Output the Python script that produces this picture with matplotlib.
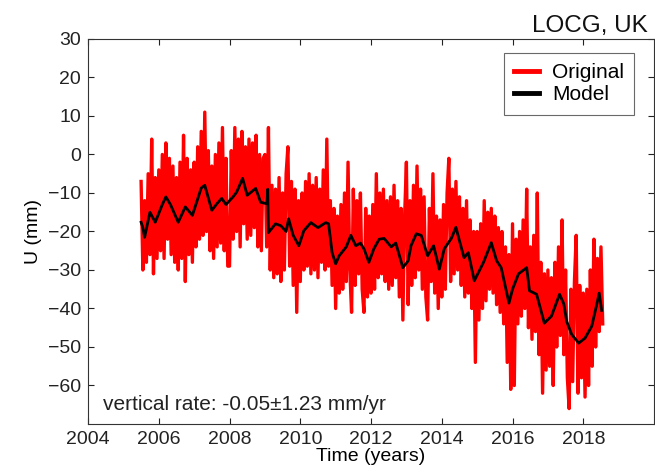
import numpy as np
import matplotlib
matplotlib.use("Agg")
import matplotlib.pyplot as plt

plt.rcParams["font.family"] = ["Liberation Sans", "DejaVu Sans"]

# model (smoothed) curve, knots
model_t = [2005.50, 2005.55, 2005.60, 2005.75, 2005.90, 2006.10, 2006.20, 2006.33,
           2006.55, 2006.75, 2006.95, 2007.20, 2007.30, 2007.50, 2007.65, 2007.78,
           2007.90, 2008.10, 2008.20, 2008.37, 2008.50, 2008.74, 2008.88, 2009.06,
           2009.08, 2009.10, 2009.30, 2009.45, 2009.60, 2009.67, 2009.80, 2009.96,
           2010.10, 2010.30, 2010.50, 2010.72, 2010.80, 2010.90, 2011.00, 2011.10,
           2011.30, 2011.43, 2011.57, 2011.70, 2011.80, 2011.94, 2012.08, 2012.23,
           2012.37, 2012.57, 2012.70, 2012.90, 2013.05, 2013.13, 2013.28, 2013.42,
           2013.60, 2013.77, 2013.93, 2014.07, 2014.27, 2014.40, 2014.50, 2014.63,
           2014.75, 2014.92, 2015.18, 2015.40, 2015.55, 2015.68, 2015.90, 2016.00,
           2016.17, 2016.40, 2016.48, 2016.68, 2016.90, 2017.10, 2017.33, 2017.45,
           2017.53, 2017.67, 2017.87, 2018.05, 2018.24, 2018.38, 2018.45, 2018.52]
model_u = [-17.6, -19.0, -21.5, -15.0, -17.6, -13.0, -11.0, -13.0,
           -17.6, -13.6, -15.8, -8.7, -8.0, -14.5, -12.7, -11.4,
           -13.0, -11.0, -9.8, -6.2, -10.6, -8.8, -12.4, -12.8,
           -9.0, -20.3, -18.0, -18.5, -20.0, -16.7, -21.0, -23.7,
           -19.8, -17.7, -19.0, -17.7, -18.0, -25.5, -28.4, -26.3,
           -24.0, -21.0, -23.7, -23.0, -24.5, -28.0, -24.5, -22.0,
           -21.8, -24.0, -23.0, -29.4, -27.6, -23.7, -20.6, -21.0,
           -26.3, -23.7, -29.8, -24.5, -21.8, -18.9, -22.4, -26.8,
           -25.5, -32.8, -28.0, -22.9, -27.6, -29.4, -38.6, -35.0,
           -31.0, -29.4, -35.4, -36.3, -43.8, -42.0, -36.3, -38.8,
           -43.3, -46.7, -49.0, -47.7, -44.6, -39.0, -36.0, -40.5]

# original GPS series, sampled every 0.05 yr from 2005.50
orig_start, orig_step = 2005.50, 0.05
orig_u = [
    -7, -30, -12, -28, -5, -26, 4, -31, -6, -27,
    -4, -25, 0, -27, 3, -22, -1, -26, -3, -28, -6, -30, -2, -27, 5, -33, -1, -26, -4, -28,
    -2, -24, 2, -22, 6, -21, 11, -20, 1, -25, -3, -27, 0, -24, 3, -23, 7, -25, -1, -29,
    -29, 1, -22, 7, -20, 4, -24, 6, -18, 2, -22, 4, -21, 3, -19, 5, -24, 0, -25, -1,
    0, -24, 7, -30, -8, -32, -9, -31, -6, -33, -10, -30, -5, 2, -29, -7, -34, -9, -41, -12,
    -33, -10, -30, -7, -29, -5, -31, -8, -30, -6, -32, -9, -28, -4, -30, 4, -29, -12, -34, -14,
    -40, -16, -36, -13, -35, -10, -33, -2, -30, -41, -9, -34, -12, -31, -10, -35, -41, -14, -37, -16,
    -36, -13, -35, -5, -32, -10, -31, -9, -33, -12, -35, -11, -34, -8, -32, -12, -37, -14, -43, -16,
    -2, -39, -12, -34, -8, -32, -3, -30, -9, -35, -11, -37, -43, -14, -33, -5, -36, -16, -40, -17,
    -37, -13, -35, -10, -1, -33, -9, -31, -7, -30, -11, -34, -14, -37, -12, -36, -17, -40, -20, -54,
    -20, -43, -18, -40, -12, -38, -15, -35, -14, -36, -16, -39, -19, -41, -20, -44, -24, -54, -26, -61,
    -18, -60, -22, -44, -20, -42, -17, -40, -9, -45, -24, -48, -21, -46, -10, -52, -28, -62, -31, -56,
    -30, -55, -32, -60, -28, -50, -24, -47, -17, -52, -30, -58, -66, -35, -59, -33, -21, -62, -34, -58,
    -36, -63, -35, -60, -30, -55, -22, -50, -27, -46, -24, -44,
]
orig_t = orig_start + orig_step * np.arange(len(orig_u))

x_ticks = [2004, 2006, 2008, 2010, 2012, 2014, 2016, 2018]
y_ticks = [30, 20, 10, 0, -10, -20, -30, -40, -50, -60]

fig = plt.figure(figsize=(6.55, 4.75), dpi=100)
ax = fig.add_axes([0.1344, 0.1074, 0.8641, 0.8105])

ax.plot(orig_t, orig_u, color="#ff0000", lw=2.4, label="Original")
ax.plot(model_t, model_u, color="black", lw=2.0, label="Model")

ax.set_xlim(2004, 2020)
ax.set_ylim(-70, 30)
ax.set_xticks(x_ticks)
ax.set_yticks(y_ticks)
ax.tick_params(direction="in", top=True, right=True, labelsize=14, length=4,
               width=0.8, colors="#222222", pad=5)
for s in ax.spines.values():
    s.set_color("#333333")
    s.set_linewidth(0.8)

ax.set_xlabel("Time (years)", fontsize=14, labelpad=0)
ax.set_ylabel("U (mm)", fontsize=14, labelpad=4)
fig.text(648 / 655, 1 - 32 / 475, "LOCG, UK", ha="right", va="baseline",
         fontsize=17.5, color="#111111")
ax.text(0.027, 0.037, "vertical rate: -0.05\u00b11.23 mm/yr", transform=ax.transAxes,
        fontsize=15, color="#222222")

leg = ax.legend(loc="upper right", bbox_to_anchor=(0.965, 0.964), fontsize=15,
                fancybox=False, borderaxespad=0, handlelength=1.2,
                handletextpad=0.6, labelspacing=0.15, borderpad=0.5)
leg.get_frame().set_edgecolor("#444444")
leg.get_frame().set_linewidth(0.8)
for h in leg.get_lines():
    h.set_linewidth(3.5)

fig.savefig("out.png", dpi=100)
